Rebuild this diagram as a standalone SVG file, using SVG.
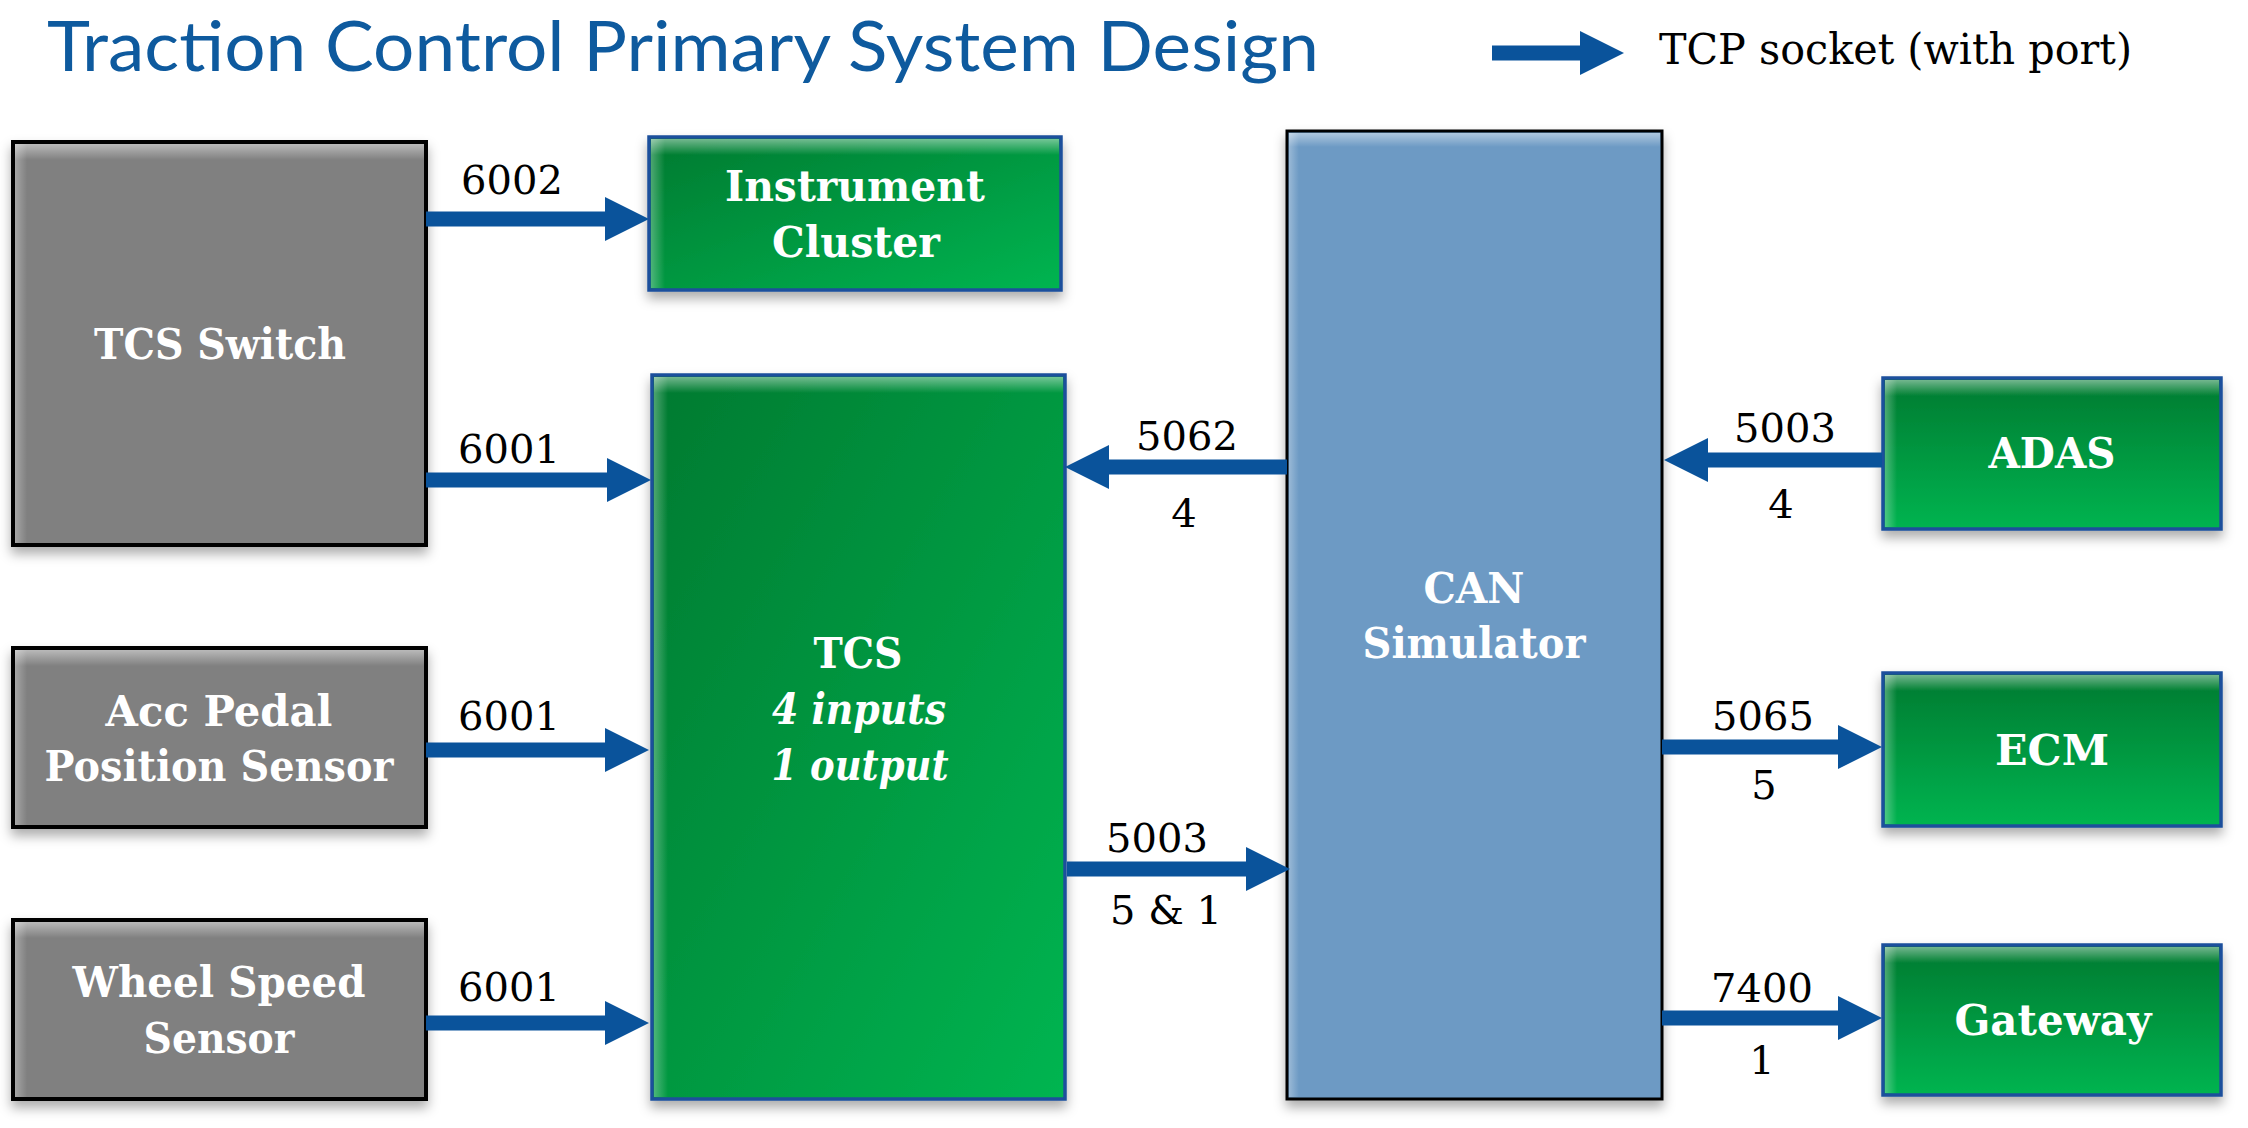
<svg xmlns="http://www.w3.org/2000/svg" width="2248" height="1128" viewBox="0 0 2248 1128">
  <defs>
    <filter id="shadow" x="-10%" y="-10%" width="120%" height="130%">
      <feDropShadow dx="0" dy="7" stdDeviation="6" flood-color="#000" flood-opacity="0.32"/>
    </filter>
    <linearGradient id="gDiag" x1="0" y1="0" x2="1" y2="1">
      <stop offset="0" stop-color="#007A30"/>
      <stop offset="1" stop-color="#00B551"/>
    </linearGradient>
    <linearGradient id="gVert" x1="0" y1="0" x2="0" y2="1">
      <stop offset="0" stop-color="#007A30"/>
      <stop offset="1" stop-color="#00B450"/>
    </linearGradient>
    <linearGradient id="hiTop" x1="0" y1="0" x2="0" y2="1">
      <stop offset="0" stop-color="#fff" stop-opacity="0.45"/>
      <stop offset="1" stop-color="#fff" stop-opacity="0"/>
    </linearGradient>
    <linearGradient id="hiLeft" x1="0" y1="0" x2="1" y2="0">
      <stop offset="0" stop-color="#fff" stop-opacity="0.3"/>
      <stop offset="1" stop-color="#fff" stop-opacity="0"/>
    </linearGradient>
    <marker id="head" markerUnits="userSpaceOnUse" markerWidth="44" markerHeight="44" refX="1" refY="22" orient="auto" viewBox="0 0 44 44">
      <path d="M0,0 L44,22 L0,44 Z" fill="#0A539B"/>
    </marker>
    <style>
      .title { font-family: Lato, "Open Sans", sans-serif; font-size: 70px; fill: #0E5A9E; }
      .legend { font-family: "DejaVu Serif", "Liberation Serif", serif; font-size: 42px; fill: #000; }
      .lbl { font-family: "DejaVu Serif", "Liberation Serif", serif; font-weight: bold; font-size: 42px; fill: #fff; text-anchor: middle; }
      .ital { font-style: italic; }
      .num { font-family: "DejaVu Serif", "Liberation Serif", serif; font-size: 40px; fill: #000; text-anchor: middle; }
      .gray { fill: #808080; stroke: #000; stroke-width: 4; }
      .blue { fill: #6D9AC4; stroke: #000; stroke-width: 3; }
      .greenD { fill: url(#gDiag); stroke: #1B4F9C; stroke-width: 3.5; }
      .greenV { fill: url(#gVert); stroke: #1B4F9C; stroke-width: 3.5; }
      .conn { stroke: #0A539B; stroke-width: 15; fill: none; marker-end: url(#head); }
    </style>
  </defs>

  <rect width="2248" height="1128" fill="#fff"/>

  <text class="title" x="47" y="71" textLength="1272" lengthAdjust="spacingAndGlyphs">Traction Control Primary System Design</text>

  <g id="legend">
    <line class="conn" x1="1492" y1="53" x2="1581" y2="53"/>
    <text class="legend" x="1659" y="64" textLength="473" lengthAdjust="spacingAndGlyphs">TCP socket (with port)</text>
  </g>

  <g id="tcs-switch">
    <rect class="gray" x="13" y="142" width="413" height="403" filter="url(#shadow)"/>
    <rect x="15" y="144" width="409" height="16" fill="url(#hiTop)"/>
    <rect x="15" y="144" width="12" height="399" fill="url(#hiLeft)"/>
    <text class="lbl" x="220" y="359" textLength="252" lengthAdjust="spacingAndGlyphs">TCS Switch</text>
  </g>

  <g id="acc-pedal">
    <rect class="gray" x="13" y="648" width="413" height="179" filter="url(#shadow)"/>
    <rect x="15" y="650" width="409" height="16" fill="url(#hiTop)"/>
    <rect x="15" y="650" width="12" height="175" fill="url(#hiLeft)"/>
    <text class="lbl" x="219" y="726" textLength="227" lengthAdjust="spacingAndGlyphs">Acc Pedal</text>
    <text class="lbl" x="219" y="781" textLength="349" lengthAdjust="spacingAndGlyphs">Position Sensor</text>
  </g>

  <g id="wheel-speed">
    <rect class="gray" x="13" y="920" width="413" height="179" filter="url(#shadow)"/>
    <rect x="15" y="922" width="409" height="16" fill="url(#hiTop)"/>
    <rect x="15" y="922" width="12" height="175" fill="url(#hiLeft)"/>
    <text class="lbl" x="219" y="997" textLength="293" lengthAdjust="spacingAndGlyphs">Wheel Speed</text>
    <text class="lbl" x="219" y="1053" textLength="151" lengthAdjust="spacingAndGlyphs">Sensor</text>
  </g>

  <g id="instrument-cluster">
    <rect class="greenD" x="649" y="137" width="412" height="153" filter="url(#shadow)"/>
    <rect x="651" y="139" width="408" height="16" fill="url(#hiTop)"/>
    <rect x="651" y="139" width="14" height="149" fill="url(#hiLeft)"/>
    <text class="lbl" x="855" y="201" textLength="260" lengthAdjust="spacingAndGlyphs">Instrument</text>
    <text class="lbl" x="856" y="257" textLength="168" lengthAdjust="spacingAndGlyphs">Cluster</text>
  </g>

  <g id="tcs">
    <rect class="greenD" x="652" y="375" width="413" height="724" filter="url(#shadow)"/>
    <rect x="654" y="377" width="409" height="16" fill="url(#hiTop)"/>
    <rect x="654" y="377" width="14" height="720" fill="url(#hiLeft)"/>
    <text class="lbl" x="858" y="668" textLength="89" lengthAdjust="spacingAndGlyphs">TCS</text>
    <text class="lbl ital" x="859" y="724" textLength="174" lengthAdjust="spacingAndGlyphs">4 inputs</text>
    <text class="lbl ital" x="860" y="780" textLength="177" lengthAdjust="spacingAndGlyphs">1 output</text>
  </g>

  <g id="can-simulator">
    <rect class="blue" x="1287" y="131" width="375" height="968" filter="url(#shadow)"/>
    <rect x="1289" y="133" width="371" height="14" fill="url(#hiTop)"/>
    <rect x="1289" y="133" width="10" height="964" fill="url(#hiLeft)"/>
    <text class="lbl" x="1474" y="603" textLength="101" lengthAdjust="spacingAndGlyphs">CAN</text>
    <text class="lbl" x="1474" y="658" textLength="223" lengthAdjust="spacingAndGlyphs">Simulator</text>
  </g>

  <g id="adas">
    <rect class="greenV" x="1883" y="378" width="338" height="151" filter="url(#shadow)"/>
    <rect x="1885" y="380" width="334" height="16" fill="url(#hiTop)"/>
    <rect x="1885" y="380" width="12" height="147" fill="url(#hiLeft)"/>
    <text class="lbl" x="2052" y="468" textLength="127" lengthAdjust="spacingAndGlyphs">ADAS</text>
  </g>

  <g id="ecm">
    <rect class="greenV" x="1883" y="673" width="338" height="153" filter="url(#shadow)"/>
    <rect x="1885" y="675" width="334" height="16" fill="url(#hiTop)"/>
    <rect x="1885" y="675" width="12" height="149" fill="url(#hiLeft)"/>
    <text class="lbl" x="2052" y="765" textLength="114" lengthAdjust="spacingAndGlyphs">ECM</text>
  </g>

  <g id="gateway">
    <rect class="greenV" x="1883" y="945" width="338" height="150" filter="url(#shadow)"/>
    <rect x="1885" y="947" width="334" height="16" fill="url(#hiTop)"/>
    <rect x="1885" y="947" width="12" height="146" fill="url(#hiLeft)"/>
    <text class="lbl" x="2053" y="1035" textLength="197" lengthAdjust="spacingAndGlyphs">Gateway</text>
  </g>

  <g id="connectors">
    <line class="conn" x1="426" y1="219" x2="606" y2="219"/>
    <line class="conn" x1="426" y1="480" x2="608" y2="480"/>
    <line class="conn" x1="426" y1="750" x2="606" y2="750"/>
    <line class="conn" x1="426" y1="1023" x2="606" y2="1023"/>
    <line class="conn" x1="1287" y1="467" x2="1108" y2="467"/>
    <line class="conn" x1="1067" y1="869" x2="1247" y2="869"/>
    <line class="conn" x1="1882" y1="460" x2="1707" y2="460"/>
    <line class="conn" x1="1662" y1="747" x2="1839" y2="747"/>
    <line class="conn" x1="1662" y1="1018" x2="1839" y2="1018"/>

    <text class="num" x="512" y="194">6002</text>
    <text class="num" x="509" y="463">6001</text>
    <text class="num" x="509" y="730">6001</text>
    <text class="num" x="509" y="1001">6001</text>
    <text class="num" x="1187" y="450">5062</text>
    <text class="num" x="1184" y="527">4</text>
    <text class="num" x="1157" y="852">5003</text>
    <text class="num" x="1166" y="924">5 &amp; 1</text>
    <text class="num" x="1785" y="442">5003</text>
    <text class="num" x="1781" y="518">4</text>
    <text class="num" x="1763" y="730">5065</text>
    <text class="num" x="1764" y="799">5</text>
    <text class="num" x="1762" y="1002">7400</text>
    <text class="num" x="1762" y="1074">1</text>
  </g>
</svg>
